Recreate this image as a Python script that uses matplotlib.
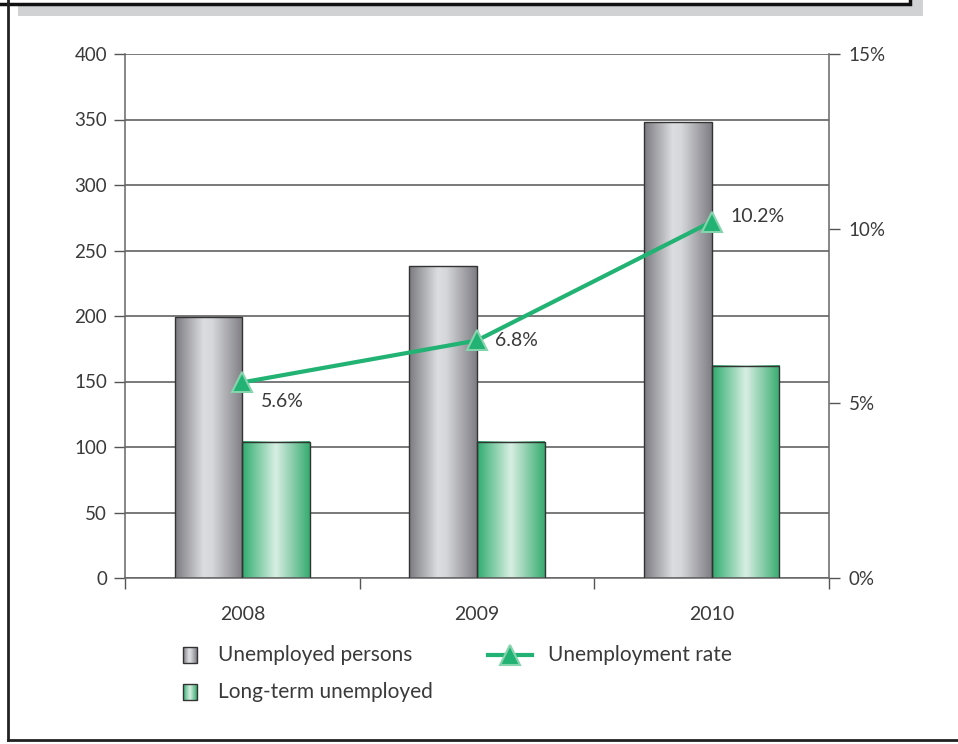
import matplotlib
matplotlib.use("Agg")
import matplotlib.pyplot as plt
from matplotlib.colors import LinearSegmentedColormap
from matplotlib.patches import Rectangle
from matplotlib.lines import Line2D
import numpy as np

plt.rcParams['font.family'] = ['Lato', 'DejaVu Sans']

years = ['2008', '2009', '2010']
unemployed = [199, 238, 348]
long_term = [104, 104, 162]
rate = [5.6, 6.8, 10.2]
rate_labels = ['5.6%', '6.8%', '10.2%']
series_names = ['Unemployed persons', 'Long-term unemployed', 'Unemployment rate']

W, H = 958, 744
TXT = '#3a3a3a'
LINE_GREEN = '#22b374'

gray_cmap = LinearSegmentedColormap.from_list(
    'bar_gray', [(0, '#7a7a80'), (0.42, '#dcdde0'), (0.55, '#d6d7da'), (1, '#7e7e84')])
green_cmap = LinearSegmentedColormap.from_list(
    'bar_green', [(0, '#2fac6e'), (0.5, '#d8efe3'), (1, '#36ab6f')])
ramp = np.linspace(0, 1, 256).reshape(1, -1)

fig = plt.figure(figsize=(W / 100, H / 100), dpi=100)
fig.patch.set_facecolor('white')

ax = fig.add_axes([125 / W, 1 - 578 / H, (829 - 125) / W, (578 - 54) / H])
ax2 = ax.twinx()

bw = 0.288
x = np.arange(len(years))


def gradient_bar(axis, x0, width, height, cmap):
    axis.imshow(ramp, extent=[x0, x0 + width, 0, height], aspect='auto',
                cmap=cmap, interpolation='bilinear', zorder=2)
    axis.add_patch(Rectangle((x0, 0), width, height, fill=False,
                             edgecolor='#333333', lw=1.0, zorder=3))


for i in range(len(years)):
    gradient_bar(ax, x[i] - bw, bw, unemployed[i], gray_cmap)
    gradient_bar(ax, x[i], bw, long_term[i], green_cmap)

ax.set_xlim(-0.5, 2.5)
ax.set_ylim(0, 400)
ax.set_yticks(np.arange(0, 401, 50))
ax.set_xticks([-0.5, 0.5, 1.5, 2.5])
ax.set_xticklabels([])
ax.set_xticks(x, minor=True)
ax.set_xticklabels(years, minor=True)
ax.tick_params(axis='x', which='major', direction='out', length=8, width=1, color='#555555')
ax.tick_params(axis='x', which='minor', length=0, pad=20, labelsize=14, labelcolor=TXT)
ax.tick_params(axis='y', direction='out', length=8, width=1, color='#555555',
               pad=5, labelsize=13.5, labelcolor=TXT)
ax.yaxis.grid(True, color='#555555', lw=1.1)
ax.set_axisbelow(True)
for s in ['top', 'right']:
    ax.spines[s].set_visible(False)
for s in ['left', 'bottom']:
    ax.spines[s].set_color('#666666')
    ax.spines[s].set_linewidth(1.1)

ax2.plot(x, rate, color=LINE_GREEN, lw=3, marker='^', markersize=15,
         markerfacecolor=LINE_GREEN, markeredgecolor='#86d4ad', markeredgewidth=1.5,
         zorder=5)
offsets = [(19, -19), (18, 0), (19, 5)]
for i, lab in enumerate(rate_labels):
    ax2.annotate(lab, (x[i], rate[i]), xytext=offsets[i], textcoords='offset pixels',
                 ha='left', va='center', fontsize=14, color=TXT)
ax2.set_ylim(0, 15)
ax2.set_yticks([0, 5, 10, 15])
ax2.set_yticklabels(['%d%%' % v for v in [0, 5, 10, 15]])
ax2.tick_params(axis='y', direction='out', length=8, width=1, color='#555555',
                pad=6, labelsize=13.5, labelcolor=TXT)
for s in ['top', 'left', 'bottom']:
    ax2.spines[s].set_visible(False)
ax2.spines['right'].set_color('#666666')
ax2.spines['right'].set_linewidth(1.1)

# overlay in pixel coordinates for frame and legend
ov = fig.add_axes([0, 0, 1, 1], zorder=-1)
ov.set_xlim(0, W)
ov.set_ylim(H, 0)
ov.axis('off')
ov.add_patch(Rectangle((18, -20), 905, 36, facecolor='#d1d2d4', edgecolor='none'))
ov.add_patch(Rectangle((-10, -20), 920, 24, facecolor='white', edgecolor='#111111', lw=2.5))
ov.add_line(Line2D([8, 8], [0, 740], color='#222222', lw=2))
ov.add_line(Line2D([8, W], [740, 740], color='#222222', lw=2))

leg = fig.add_axes([0, 0, 1, 1], zorder=5)
leg.set_xlim(0, W)
leg.set_ylim(H, 0)
leg.axis('off')
leg.patch.set_visible(False)
for cy, cmap, name in [(655, gray_cmap, series_names[0]), (692, green_cmap, series_names[1])]:
    leg.imshow(ramp, extent=[183, 197, cy + 8, cy - 8], aspect='auto', cmap=cmap,
               interpolation='bilinear')
    leg.add_patch(Rectangle((183, cy - 8), 14, 16, fill=False, edgecolor='#333333', lw=1))
    leg.text(218, cy, name, ha='left', va='center', fontsize=15, color=TXT)
leg.add_line(Line2D([488, 532], [655, 655], color=LINE_GREEN, lw=3))
leg.plot([510], [655], marker='^', markersize=15, color=LINE_GREEN,
         markeredgecolor='#86d4ad', markeredgewidth=1.5)
leg.text(548, 655, series_names[2], ha='left', va='center', fontsize=15, color=TXT)
leg.set_xlim(0, W)
leg.set_ylim(H, 0)

fig.savefig('out.png', dpi=100)
